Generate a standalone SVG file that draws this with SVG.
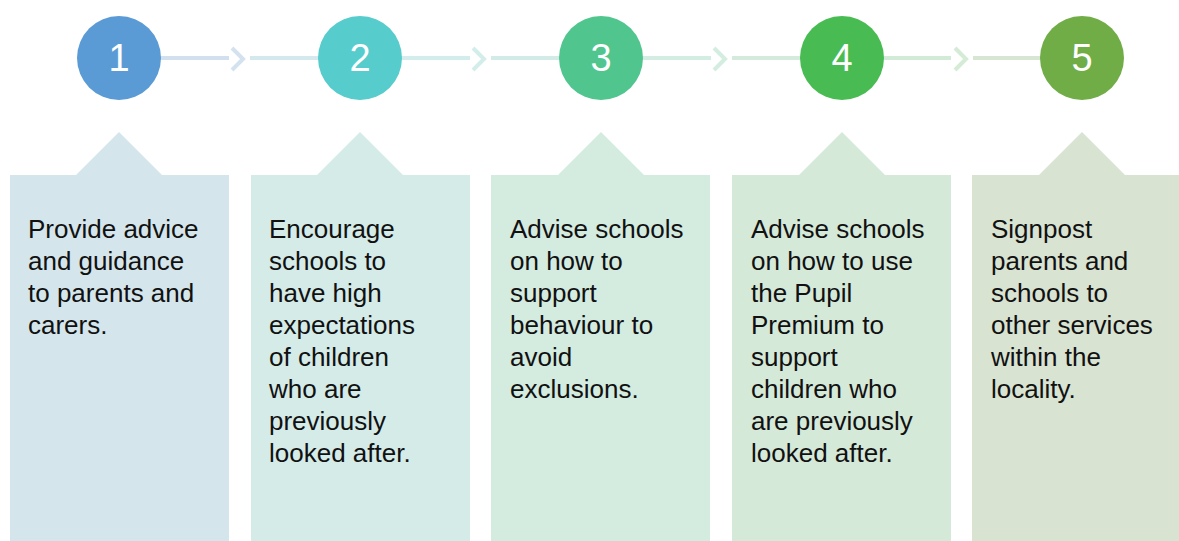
<svg xmlns="http://www.w3.org/2000/svg" width="1179" height="541" viewBox="0 0 1179 541">
<style>
.num{font-family:"Liberation Sans",Arial,sans-serif;font-size:38px;fill:#fff;text-anchor:middle}
.txt{font-family:"Liberation Sans",Arial,sans-serif;font-size:26px;fill:#111}
.ln{stroke-width:4;fill:none}
.chev{stroke-width:4;fill:none;stroke-linejoin:miter}
</style>
<rect width="1179" height="541" fill="#fff"/>
<g id="connectors">
  <line class="ln" x1="160" y1="58" x2="229" y2="58" stroke="#D1DFEE"/>
  <polyline class="chev" points="232,48 243,59 232,70" stroke="#D3E2EE"/>
  <line class="ln" x1="250" y1="58" x2="319" y2="58" stroke="#D3E9EE"/>
  <line class="ln" x1="401" y1="58" x2="470" y2="58" stroke="#D3EDED"/>
  <polyline class="chev" points="473,48 484,59 473,70" stroke="#D3EDEB"/>
  <line class="ln" x1="491" y1="58" x2="560" y2="58" stroke="#D3EBE7"/>
  <line class="ln" x1="642" y1="58" x2="711" y2="58" stroke="#D3EDE3"/>
  <polyline class="chev" points="714,48 725,59 714,70" stroke="#D3EDE0"/>
  <line class="ln" x1="732" y1="58" x2="801" y2="58" stroke="#D4EADD"/>
  <line class="ln" x1="883" y1="58" x2="951" y2="58" stroke="#D2EBD6"/>
  <polyline class="chev" points="955,48 966,59 955,70" stroke="#D4EBD5"/>
  <line class="ln" x1="973" y1="58" x2="1042" y2="58" stroke="#D7E6D2"/>
</g>
<g id="step1">
  <circle cx="119" cy="58" r="42" fill="#5B9BD5"/>
  <text class="num" x="119" y="71">1</text>
  <path d="M10,175 H76 L119,132 L162,175 H229 V541 H10 Z" fill="#D4E6EC"/>
  <text class="txt"><tspan x="28" y="238">Provide advice</tspan><tspan x="28" y="270">and guidance</tspan><tspan x="28" y="302">to parents and</tspan><tspan x="28" y="334">carers.</tspan></text>
</g>
<g id="step2">
  <circle cx="360" cy="58" r="42" fill="#56CCCD"/>
  <text class="num" x="360" y="71">2</text>
  <path d="M251,175 H317 L360,132 L403,175 H470 V541 H251 Z" fill="#D4EBE8"/>
  <text class="txt"><tspan x="269" y="238">Encourage</tspan><tspan x="269" y="270">schools to</tspan><tspan x="269" y="302">have high</tspan><tspan x="269" y="334">expectations</tspan><tspan x="269" y="366">of children</tspan><tspan x="269" y="398">who are</tspan><tspan x="269" y="430">previously</tspan><tspan x="269" y="462">looked after.</tspan></text>
</g>
<g id="step3">
  <circle cx="601" cy="58" r="42" fill="#50C68E"/>
  <text class="num" x="601" y="71">3</text>
  <path d="M491,175 H558 L601,132 L644,175 H710 V541 H491 Z" fill="#D4EBE0"/>
  <text class="txt"><tspan x="510" y="238">Advise schools</tspan><tspan x="510" y="270">on how to</tspan><tspan x="510" y="302">support</tspan><tspan x="510" y="334">behaviour to</tspan><tspan x="510" y="366">avoid</tspan><tspan x="510" y="398">exclusions.</tspan></text>
</g>
<g id="step4">
  <circle cx="842" cy="58" r="42" fill="#48BC52"/>
  <text class="num" x="842" y="71">4</text>
  <path d="M732,175 H799 L842,132 L885,175 H951 V541 H732 Z" fill="#D5E9D9"/>
  <text class="txt"><tspan x="751" y="238">Advise schools</tspan><tspan x="751" y="270">on how to use</tspan><tspan x="751" y="302">the Pupil</tspan><tspan x="751" y="334">Premium to</tspan><tspan x="751" y="366">support</tspan><tspan x="751" y="398">children who</tspan><tspan x="751" y="430">are previously</tspan><tspan x="751" y="462">looked after.</tspan></text>
</g>
<g id="step5">
  <circle cx="1082" cy="58" r="42" fill="#70AD47"/>
  <text class="num" x="1082" y="71">5</text>
  <path d="M972,175 H1039 L1082,132 L1125,175 H1191 V541 H972 Z" fill="#D8E3D1"/>
  <text class="txt"><tspan x="991" y="238">Signpost</tspan><tspan x="991" y="270">parents and</tspan><tspan x="991" y="302">schools to</tspan><tspan x="991" y="334">other services</tspan><tspan x="991" y="366">within the</tspan><tspan x="991" y="398">locality.</tspan></text>
</g>
</svg>
